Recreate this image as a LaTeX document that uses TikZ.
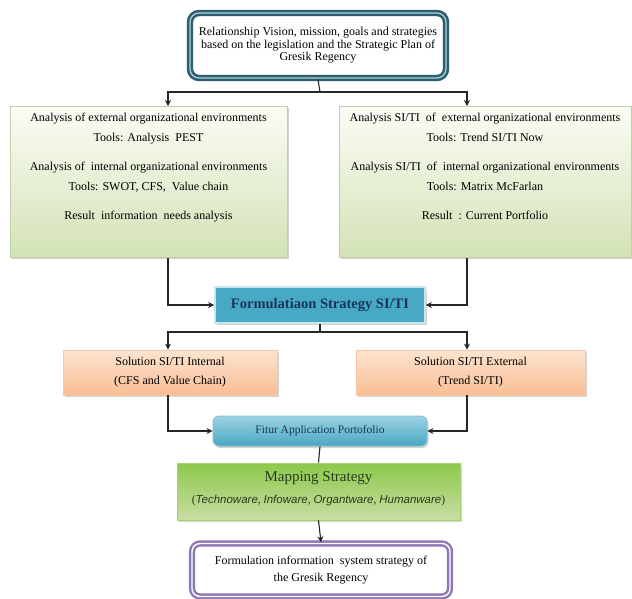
\documentclass[tikz,border=0pt]{standalone}
\usepackage{fontspec}
\setmainfont{Liberation Serif}
\setsansfont{Liberation Sans}
\usetikzlibrary{shadows,arrows.meta,calc}
\definecolor{tealdark}{HTML}{2E5E6E}
\definecolor{tealin}{HTML}{A9D3E0}
\definecolor{greentop}{HTML}{FBFCF5}
\definecolor{greenbot}{HTML}{D3E2B6}
\definecolor{greenline}{HTML}{C4CFAE}
\definecolor{formfill}{HTML}{47A9C3}
\definecolor{navy}{HTML}{17365D}
\definecolor{orangetop}{HTML}{FCE3CF}
\definecolor{orangebot}{HTML}{F9BE94}
\definecolor{orangeline}{HTML}{F4B183}
\definecolor{fiturtop}{HTML}{9CD3E3}
\definecolor{fiturbot}{HTML}{49A7C2}
\definecolor{maptop}{HTML}{8CC94A}
\definecolor{mapbot}{HTML}{C9DDA4}
\definecolor{purpleline}{HTML}{8E77B5}
\definecolor{mapink}{HTML}{2B3A1E}
\tikzset{
  shad/.style={drop shadow={opacity=0.35,shadow xshift=1.5pt,shadow yshift=-2pt}},
  topbox/.style={draw=tealdark,line width=2.6pt,double=tealin,double distance=1.2pt,
    rounded corners=9pt,fill=white,align=center,font=\fontsize{12}{12.5}\selectfont},
  greenbox/.style={draw=greenline,line width=0.8pt,top color=greentop,bottom color=greenbot,
    shad},
  gtext/.style={align=center,font=\fontsize{12}{20}\selectfont},
  formbox/.style={draw=tealin!60!white,line width=1.6pt,fill=formfill,shad,
    font=\bfseries\fontsize{14.5}{16}\selectfont,text=navy},
  orangebox/.style={draw=orangeline!70!white,line width=0.8pt,top color=orangetop,
    bottom color=orangebot,shad,align=center,font=\fontsize{12}{19}\selectfont},
  fiturbox/.style={draw=fiturbot!70!white,line width=0.8pt,rounded corners=6pt,
    top color=fiturtop,bottom color=fiturbot,shad,text=navy,
    font=\fontsize{11.5}{13}\selectfont},
  mapbox/.style={draw=maptop!80!white,line width=0.8pt,top color=maptop,bottom color=mapbot,
    shad},
  finalbox/.style={draw=purpleline,line width=2.4pt,double=white,double distance=1.4pt,
    rounded corners=8pt,fill=white,align=center,font=\fontsize{12}{17}\selectfont},
  conn/.style={draw=black!85,line width=1.1pt},
  arr/.style={conn,-{Stealth[length=6pt,width=6pt]}}
}
\begin{document}
\begin{tikzpicture}[x=1pt,y=-1pt]
\useasboundingbox (0,0) rectangle (632,598);
\fill[white] (0,0) rectangle (632,598);
% nodes
\node[topbox,minimum width=256pt,minimum height=65pt] (top) at (318,45.5)
  {Relationship Vision, mission, goals and strategies\\based on the legislation and the Strategic Plan of\\Gresik Regency};
\node[greenbox,minimum width=277pt,minimum height=151pt,anchor=north] (left) at (148.5,106) {};
\node[gtext,anchor=north] (lefttext) at (148.5,110)
  {Analysis of external organizational environments\\Tools: Analysis\ \ PEST\\[9pt]
   Analysis of\ \ internal organizational environments\\Tools: SWOT, CFS,\ \ Value chain\\[9pt]
   Result\ \ information\ \ needs analysis};
\node[greenbox,minimum width=292pt,minimum height=151pt,anchor=north] (right) at (485,106) {};
\node[gtext,anchor=north] (righttext) at (485,110)
  {Analysis SI/TI\ \ of\ \ external organizational environments\\Tools: Trend SI/TI Now\\[9pt]
   Analysis SI/TI\ \ of\ \ internal organizational environments\\Tools: Matrix McFarlan\\[9pt]
   Result\ \ : Current Portfolio};
\node[formbox,minimum width=210pt,minimum height=36pt] (form) at (320,305) {Formulatiaon Strategy SI/TI};
\node[orangebox,minimum width=214pt,minimum height=45pt] (ol) at (170,372.5)
  {Solution SI/TI Internal\\(CFS and Value Chain)};
\node[orangebox,minimum width=229pt,minimum height=45pt] (or) at (470.5,372.5)
  {Solution SI/TI External\\(Trend SI/TI)};
\node[fiturbox,minimum width=214pt,minimum height=30pt] (fitur) at (320,431) {Fitur Application Portofolio};
\node[mapbox,minimum width=283pt,minimum height=57pt] (map) at (318.5,491.5) {};
\node[text=mapink,font=\fontsize{15}{17}\selectfont] (maptitle) at (318.5,478) {Mapping Strategy};
\node[text=mapink,font=\fontsize{11.5}{13}\selectfont] (mapsub) at (318.5,501)
  {(\textsf{\itshape Technoware}, \textsf{\itshape Infoware}, \textsf{\itshape Organtware}, \textsf{\itshape Humanware})};
\node[finalbox,minimum width=258pt,minimum height=53pt] (final) at (321,570)
  {Formulation information\ \ system strategy of\\the Gresik Regency};
% bus coordinates
\coordinate (b1) at (320,92);
\coordinate (bl) at (168,92);
\coordinate (br) at (467,92);
\coordinate (b2) at (320,332);
\coordinate (b2l) at (168,332);
\coordinate (b2r) at (467,332);
% connectors
\draw[conn] (top.south) -- (b1);
\draw[arr] (b1) -- (bl) -- (bl |- left.north);
\draw[arr] (b1) -- (br) -- (br |- right.north);
\draw[arr] (bl |- left.south) |- (form.west);
\draw[arr] (br |- right.south) |- (form.east);
\draw[conn] (form.south) -- (b2);
\draw[arr] (b2) -- (b2l) -- (b2l |- ol.north);
\draw[arr] (b2) -- (b2r) -- (b2r |- or.north);
\draw[arr] (b2l |- ol.south) |- (fitur.west);
\draw[arr] (b2r |- or.south) |- (fitur.east);
\draw[conn] (fitur.south) -- (map.north);
\draw[arr] (map.south) -- (final.north);
\end{tikzpicture}
\end{document}
